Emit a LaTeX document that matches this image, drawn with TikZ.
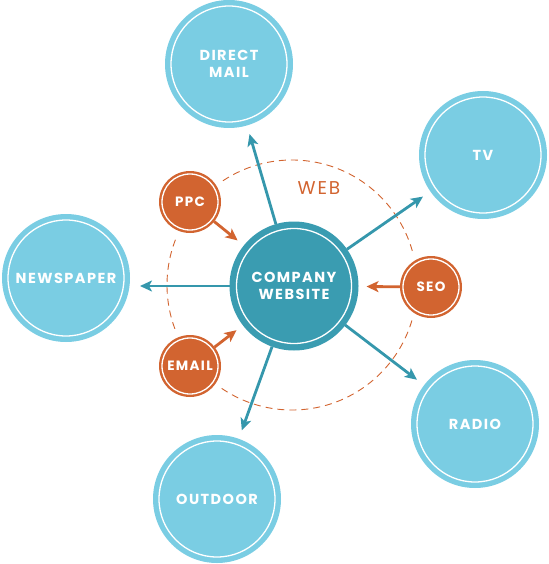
\documentclass[tikz,border=0pt]{standalone}
\usepackage{fontspec}
\setmainfont{Poppins}[LetterSpace=10]
\usetikzlibrary{arrows.meta}
\definecolor{outerblue}{HTML}{7ACDE3}
\definecolor{coreteal}{HTML}{3A9CB1}
\definecolor{arrowteal}{HTML}{3597AC}
\definecolor{weborange}{HTML}{D26430}
\begin{document}
\begin{tikzpicture}[x=1pt,y=-1pt,
  bigc/.style={circle, fill=outerblue, minimum size=128pt, inner sep=0pt, outer sep=0pt,
    text=white, font=\bfseries\fontsize{14.5}{17}\selectfont, align=center},
  corec/.style={circle, fill=coreteal, minimum size=129pt, inner sep=0pt, outer sep=0pt,
    text=white, font=\bfseries\fontsize{14.5}{17}\selectfont, align=center},
  smallc/.style={circle, fill=weborange, minimum size=62pt, inner sep=0pt, outer sep=0pt,
    text=white, font=\bfseries\fontsize{13.5}{15}\selectfont, align=center},
  ring/.style={draw=white, line width=1.3pt},
  outarrow/.style={draw=arrowteal, line width=2.8pt, -{Stealth[length=12pt,width=11pt,inset=3pt]}, shorten >=9pt},
  inarrow/.style={draw=weborange, line width=2.8pt, -{Stealth[length=12pt,width=11pt,inset=3pt]}, shorten >=8pt},
  webring/.style={draw=weborange, line width=0.9pt, dash pattern=on 7pt off 5pt},
]
\useasboundingbox (0,0) rectangle (548,564);
\coordinate (pc) at (294,286);
\coordinate (ppcp) at (190,202);
\coordinate (seop) at (431,287);
\coordinate (emailp) at (190,366);

% web ring
\draw[webring] (292,285) circle (125);
\node[text=weborange, font=\fontsize{18.5}{20}\selectfont] (web) at (319,188) {WEB};

% white halos of the small circles
\fill[white] (ppcp) circle (37);
\fill[white] (seop) circle (37);
\fill[white] (emailp) circle (37);

% outer circles
\node[bigc] (dm) at (229,64) {DIRECT\\MAIL};
\node[bigc] (tv) at (483,155) {TV};
\node[bigc] (np) at (66,278) {NEWSPAPER};
\node[bigc] (radio) at (475,424) {RADIO};
\node[bigc] (outdoor) at (217,499) {OUTDOOR};
\foreach \n in {dm,tv,np,radio,outdoor}{\draw[ring] (\n.center) circle (58);}

% centre
\node[corec] (core) at (pc) {COMPANY\\WEBSITE};
\draw[ring] (core.center) circle (57.5);

% small circles
\node[smallc] (ppc) at (ppcp) {PPC};
\node[smallc] (seo) at (seop) {SEO};
\node[smallc] (email) at (emailp) {EMAIL};
\foreach \n in {ppc,seo,email}{\draw[ring] (\n.center) circle (28);}

% connectors
\foreach \n in {dm,tv,radio,outdoor}{\draw[outarrow] (core) -- (\n);}
\draw[outarrow, shorten >=10pt] (core) -- (np.east |- core);
\foreach \n in {ppc,seo,email}{\draw[inarrow] (\n) -- (core);}
\end{tikzpicture}
\end{document}
